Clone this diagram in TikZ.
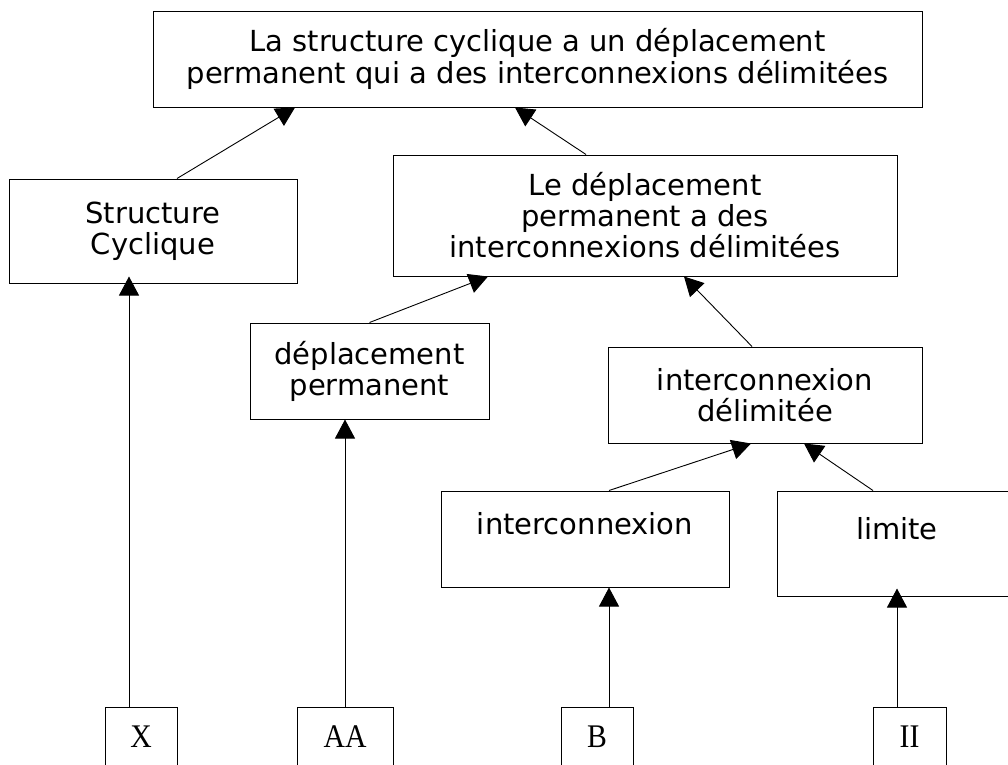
\documentclass[tikz,border=0pt]{standalone}
\usepackage{fontspec}
\setmainfont{DejaVu Sans}
\newfontfamily\boxfont{DejaVu Sans}
\newfontfamily\tagfont[FakeStretch=0.9]{Liberation Serif}
\usetikzlibrary{arrows.meta}

\begin{document}
\begin{tikzpicture}[x=1pt,y=-1pt,
  box/.style={draw=black, line width=1pt, align=center, inner sep=0pt,
    font=\boxfont\fontsize{29}{31}\selectfont},
  tag/.style={draw=black, line width=1pt, anchor=north, inner xsep=0pt, inner ysep=18pt,
    text height=22pt, text depth=40pt, font=\tagfont\fontsize{33}{36}\selectfont},
  link/.style={line width=0.9pt, -{Triangle[length=19pt,width=20pt]}}]
\useasboundingbox (0,0) rectangle (1008,764);

% statement boxes
\node[box, minimum width=769pt, minimum height=96pt, font=\boxfont\fontsize{29}{32}\selectfont]
  (top) at (537.5,59) {La structure cyclique a un déplacement\\permanent qui a des interconnexions délimitées};
\node[box, minimum width=288pt, minimum height=104pt] (sc) at (153,231) {Structure\\Cyclique};
\node[box, minimum width=504pt, minimum height=121pt] (ld) at (645,215.5)
  {Le déplacement\\permanent a des\\interconnexions délimitées};
\node[box, minimum width=239pt, minimum height=96pt] (dp) at (369.5,371) {déplacement\\permanent};
\node[box, minimum width=314pt, minimum height=96pt] (id) at (765,395) {interconnexion\\délimitée};
\node[box, minimum width=288pt, minimum height=96pt] (ic) at (585,539) {interconnexion\\\mbox{}};
\node[box, minimum width=240pt, minimum height=105pt] (li) at (897,543.5) {limite\\\mbox{}};

% leaf tags along the bottom
\node[tag, minimum width=72pt] (tx) at (141,707) {X};
\node[tag, minimum width=96pt] (taa) at (345,707) {AA};
\node[tag, minimum width=72pt] (tb) at (597,707) {B};
\node[tag, minimum width=73pt] (tii) at (909.5,707) {II};

% links
\draw[link] ([xshift=24pt]sc.north) -- ([xshift=-242.5pt]top.south);
\draw[link] ([xshift=-59pt]ld.north) -- ([xshift=-22.5pt]top.south);
\draw[link] (dp.north) -- ([xshift=-157pt]ld.south);
\draw[link] ([xshift=-13pt]id.north) -- ([xshift=39pt]ld.south);
\draw[link] ([xshift=24pt]ic.north) -- ([xshift=-14pt]id.south);
\draw[link] ([xshift=-24pt]li.north) -- ([xshift=39pt]id.south);
\draw[link, shorten >=-7pt] ([xshift=-12pt]tx.north) -- ([xshift=-24pt]sc.south);
\draw[link] (taa.north) -- ([xshift=-24.5pt]dp.south);
\draw[link] ([xshift=12pt]tb.north) -- ([xshift=24pt]ic.south);
\draw[link, shorten >=-8pt] ([xshift=-12.5pt]tii.north) -- (li.south);
\end{tikzpicture}
\end{document}
